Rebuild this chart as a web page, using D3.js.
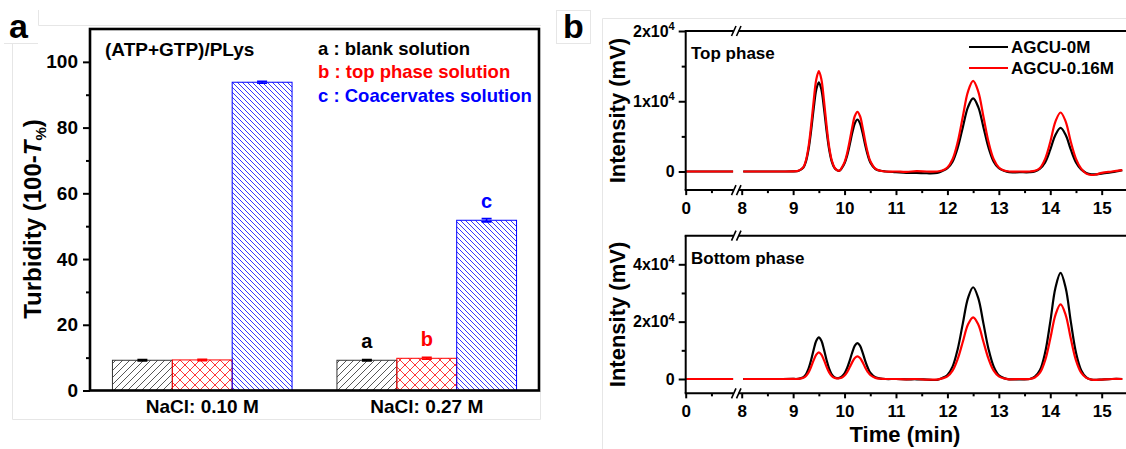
<!DOCTYPE html>
<html>
<head>
<meta charset="UTF-8">
<title>Turbidity and chromatograms</title>
<style>
body{margin:0;background:#fff;}
svg{display:block;font-family:"Liberation Sans",Arial,sans-serif;font-weight:bold;}
.axis path.domain{display:none;}
.axis line{stroke:#000;}
</style>
</head>
<body>
<svg width="1126" height="449"></svg>
<script src="https://cdn.jsdelivr.net/npm/d3@7/dist/d3.min.js"></script>
<script>
// ---- panel a data ----
var groups = ["NaCl: 0.10 M", "NaCl: 0.27 M"];
var seriesKeys = ["a", "b", "c"];
var blankVals = [9.2, 9.2], blankErr = [0.2, 0.2];
var topVals = [9.3, 9.8], topErr = [0.2, 0.3];
var coacVals = [93.8, 51.8], coacErr = [0.3, 0.5];
var turbTicks = [0, 20, 40, 60, 80, 100];
var turbMinor = [10, 30, 50, 70, 90];
var legendA = ["a : blank solution", "b : top phase solution", "c : Coacervates solution"];

// ---- panel b data (intensity in 10^4 mV) ----
var timeLeft = [0, 0.46, 0.92];
var baseLeft = [0, 0, 0];
var timeRight = [8.03, 8.4, 8.8, 9.0, 9.1,
	9.2, 9.25, 9.3, 9.35, 9.4, 9.45, 9.5, 9.55, 9.6, 9.65, 9.7, 9.75, 9.8, 9.85,
	9.9, 9.95, 10.0, 10.05, 10.1, 10.15, 10.2, 10.25, 10.3, 10.35, 10.4, 10.45, 10.5, 10.6, 10.7, 10.8,
	11.0, 11.2, 11.4, 11.6, 11.8,
	11.9, 12.0, 12.1, 12.2, 12.3, 12.4, 12.5, 12.6, 12.7, 12.8, 12.9, 13.0, 13.1, 13.2, 13.4, 13.6,
	13.7, 13.8, 13.9, 14.0, 14.1, 14.2, 14.3, 14.4, 14.5, 14.6, 14.7, 14.8, 14.9, 15.0, 15.2, 15.4];
var topBlack = [0, 0, 0, 0.002, 0.008,
	0.056, 0.145, 0.316, 0.582, 0.898, 1.165, 1.27, 1.165, 0.898, 0.582, 0.316, 0.145, 0.056, 0.02,
	0.01, 0.052, 0.116, 0.226, 0.38, 0.55, 0.687, 0.74, 0.687, 0.55, 0.38, 0.235, 0.13, 0.035, 0.01, 0,
	-0.01, -0.02, -0.02, -0.025, -0.02,
	0.008, 0.046, 0.14, 0.338, 0.631, 0.917, 1.04, 0.917, 0.631, 0.338, 0.14, 0.046, 0.01, -0.01, -0.01, -0.01,
	0, 0.04, 0.13, 0.31, 0.52, 0.62, 0.52, 0.31, 0.13, 0.03, -0.02, -0.04, -0.04, -0.03, -0.01, 0.02];
var topRed = [0, 0, 0, 0.003, 0.01,
	0.063, 0.163, 0.355, 0.655, 1.01, 1.31, 1.43, 1.31, 1.01, 0.655, 0.355, 0.163, 0.063, 0.022,
	0.012, 0.06, 0.133, 0.26, 0.437, 0.632, 0.79, 0.85, 0.79, 0.632, 0.437, 0.27, 0.15, 0.04, 0.01, 0,
	0, -0.005, 0.005, 0, 0,
	0.014, 0.057, 0.174, 0.419, 0.783, 1.138, 1.29, 1.138, 0.783, 0.419, 0.174, 0.057, 0.014, 0, 0, 0,
	0.01, 0.05, 0.18, 0.42, 0.71, 0.84, 0.71, 0.42, 0.18, 0.04, -0.03, -0.05, -0.04, -0.02, 0, 0.02];
var botBlack = [0, 0, 0, 0.002, 0.006,
	0.064, 0.165, 0.361, 0.664, 1.025, 1.33, 1.45, 1.33, 1.025, 0.664, 0.361, 0.165, 0.064, 0.03,
	0.04, 0.09, 0.196, 0.383, 0.643, 0.93, 1.161, 1.25, 1.161, 0.93, 0.643, 0.40, 0.22, 0.06, 0.015, 0,
	0, -0.01, -0.01, -0.02, -0.03,
	0.035, 0.14, 0.43, 1.04, 1.94, 2.82, 3.2, 2.82, 1.94, 1.04, 0.43, 0.13, 0.03, -0.01, -0.01, 0,
	0.08, 0.31, 0.92, 1.99, 3.17, 3.7, 3.17, 1.99, 0.92, 0.31, 0.06, -0.02, -0.03, -0.02, 0, 0];
var botRed = [0, 0, 0, 0.001, 0.004,
	0.041, 0.106, 0.232, 0.426, 0.658, 0.853, 0.93, 0.853, 0.658, 0.426, 0.232, 0.106, 0.041, 0.02,
	0.025, 0.055, 0.124, 0.242, 0.406, 0.588, 0.734, 0.79, 0.734, 0.588, 0.406, 0.25, 0.14, 0.04, 0.01, 0,
	0, -0.01, 0, -0.02, -0.02,
	0.02, 0.09, 0.29, 0.70, 1.30, 1.90, 2.15, 1.90, 1.30, 0.70, 0.29, 0.09, 0.02, -0.01, 0, 0,
	0.055, 0.22, 0.65, 1.40, 2.23, 2.6, 2.23, 1.40, 0.65, 0.22, 0.04, -0.02, -0.03, -0.02, 0, 0];
var timeMajorR = [8, 9, 10, 11, 12, 13, 14, 15];
var timeMinorR = [8.5, 9.5, 10.5, 11.5, 12.5, 13.5, 14.5];
var topTicks = [0, 1, 2], topMinor = [0.5, 1.5];
var botTicks = [0, 2, 4], botMinor = [1, 3];
var legendB = ["AGCU-0M", "AGCU-0.16M"];

var svg = d3.select("svg");
var defs = svg.append("defs");

// faint frame lines left over from the original figure assembly
var gray = svg.append("g").attr("stroke", "#e6e6e6").attr("fill", "none").attr("stroke-width", 1);
gray.append("path").attr("d", "M38.5,10V25.5H541 M4,43.5H38 M12.5,43V419.5H540.5V391");
gray.append("path").attr("d", "M602.5,449V18.5H1126");
gray.append("rect").attr("x", 556.5).attr("y", 10.5).attr("width", 34).attr("height", 33);

// hatch patterns
function hatch(id, size, d, color) {
	defs.append("pattern").attr("id", id).attr("patternUnits", "userSpaceOnUse")
		.attr("width", size).attr("height", size)
		.append("path").attr("d", d).attr("stroke", color).attr("stroke-width", 0.9).attr("fill", "none");
}
hatch("hA", 7, "M-1,1 l2,-2 M0,7 l7,-7 M6,8 l2,-2", "#444");
hatch("hB", 10, "M0,0 l10,10 M0,10 l10,-10", "#ff2020");
hatch("hC", 5, "M0,0 l5,5 M-1,4 l2,2 M4,-1 l2,2", "#2020ff");

// ================= panel a =================
var colors = ["#333", "#ff0000", "#0000ff"];
var fills = ["url(#hA)", "url(#hB)", "url(#hC)"];
var vals = [blankVals, topVals, coacVals];
var errs = [blankErr, topErr, coacErr];

var x0 = d3.scaleBand().domain(groups).range([90, 539]).paddingInner(0.2).paddingOuter(0.1);
var x1 = d3.scaleBand().domain(seriesKeys).range([0, x0.bandwidth()]).padding(0);
var y = d3.scaleLinear().domain([0, 110]).range([390.5, 29]);

var bars = [];
groups.forEach(function(g, gi) {
	seriesKeys.forEach(function(k, si) {
		bars.push({g: g, k: k, si: si, v: vals[si][gi], e: errs[si][gi], gi: gi});
	});
});

var ga = svg.append("g");
ga.selectAll(".bar").data(bars).enter().append("rect")
	.attr("class", "bar")
	.attr("x", function(d) { return x0(d.g) + x1(d.k); })
	.attr("y", function(d) { return y(d.v); })
	.attr("width", x1.bandwidth())
	.attr("height", function(d) { return y(0) - y(d.v); })
	.attr("fill", function(d) { return fills[d.si]; })
	.attr("stroke", function(d) { return colors[d.si]; })
	.attr("stroke-width", 1);

var eb = ga.selectAll(".err").data(bars).enter().append("g").attr("class", "err")
	.attr("stroke", function(d) { return d.si == 0 ? "#000" : colors[d.si]; })
	.attr("stroke-width", 1.6);
eb.append("path").attr("d", function(d) {
	var cx = x0(d.g) + x1(d.k) + x1.bandwidth() / 2;
	var t = y(d.v + d.e), b = y(d.v - d.e);
	return "M" + (cx - 5) + "," + t + "H" + (cx + 5) + "M" + (cx - 5) + "," + b + "H" + (cx + 5) + "M" + cx + "," + t + "V" + b;
});

// letters above second group
ga.selectAll(".lab").data(bars.filter(function(d) { return d.gi == 1; })).enter().append("text")
	.attr("x", function(d) { return x0(d.g) + x1(d.k) + x1.bandwidth() / 2; })
	.attr("y", function(d) { return y(d.v) - 12; })
	.attr("text-anchor", "middle").attr("font-size", 20)
	.attr("fill", function(d) { return d.si == 0 ? "#000" : colors[d.si]; })
	.text(function(d) { return d.k; });

// frame
ga.append("rect").attr("x", 90).attr("y", 29).attr("width", 449).attr("height", 361.5)
	.attr("fill", "none").attr("stroke", "#000").attr("stroke-width", 2.6);

var yAx = ga.append("g").attr("class", "axis").attr("transform", "translate(90,0)")
	.call(d3.axisLeft(y).tickValues(turbTicks).tickSize(7).tickPadding(5));
yAx.selectAll("line").attr("stroke-width", 2);
yAx.selectAll("text").attr("font-size", 19).attr("font-family", null);
ga.append("g").attr("class", "axis").attr("transform", "translate(90,0)")
	.call(d3.axisLeft(y).tickValues(turbMinor).tickSize(4).tickFormat(""))
	.selectAll("line").attr("stroke-width", 2);

ga.selectAll(".grp").data(groups).enter().append("text")
	.attr("x", function(d) { return x0(d) + x0.bandwidth() / 2; })
	.attr("y", 413).attr("text-anchor", "middle").attr("font-size", 19)
	.text(function(d) { return d; });

var yl = ga.append("text").attr("transform", "translate(41,219) rotate(-90)")
	.attr("text-anchor", "middle").attr("font-size", 24);
yl.append("tspan").text("Turbidity (100-");
yl.append("tspan").attr("font-style", "italic").text("T");
yl.append("tspan").attr("font-size", 15).attr("dy", 5).text("%");
yl.append("tspan").attr("dy", -5).text(")");

ga.append("text").attr("x", 105).attr("y", 56).attr("font-size", 19).text("(ATP+GTP)/PLys");
ga.selectAll(".leg").data(legendA).enter().append("text")
	.attr("x", 318).attr("y", function(d, i) { return 55 + i * 23.4; })
	.attr("font-size", 18.5)
	.attr("fill", function(d, i) { return i == 0 ? "#000" : colors[i]; })
	.text(function(d) { return d; });

svg.append("text").attr("x", 9).attr("y", 38).attr("font-size", 34).text("a");
svg.append("text").attr("x", 563).attr("y", 38).attr("font-size", 34).text("b");

// ================= panel b =================
var xL = d3.scaleLinear().domain([0, 1]).range([685.7, 737.2]);
var xR = d3.scaleLinear().domain([8, 15]).range([741.7, 1101.7]);
var yTop = d3.scaleLinear().domain([0, 2]).range([171.5, 31]);
var yBot = d3.scaleLinear().domain([0, 4]).range([379, 264.3]);

function supLabels(sel) {
	sel.selectAll(".tick text").each(function(d) {
		var t = d3.select(this);
		t.text(null).attr("font-size", 16).attr("font-family", null);
		if (d == 0) { t.text("0"); return; }
		t.append("tspan").text(d + "x10");
		t.append("tspan").attr("font-size", 11).attr("dy", "-0.6em").text("4");
	});
}

function chrom(yS, yMin, yMax, ticks, minor, blackVals, redVals, label, showLegend) {
	var g = svg.append("g");
	var top = yS(yMax), bot = yS(yMin);
	var left = xL(0);
	var brk = 736.5;

	// curves
	var line = d3.line().x(function(d) { return d[0] < 4 ? xL(d[0]) : xR(d[0]); })
		.y(function(d) { return yS(d[1]); }).curve(d3.curveCatmullRom);
	[[blackVals, "#000"], [redVals, "#ff0000"]].forEach(function(s) {
		g.append("path").datum(d3.zip(timeLeft, baseLeft)).attr("d", line)
			.attr("fill", "none").attr("stroke", s[1]).attr("stroke-width", 2.2);
		g.append("path").datum(d3.zip(timeRight, s[0])).attr("d", line)
			.attr("fill", "none").attr("stroke", s[1]).attr("stroke-width", 2.2);
	});

	// frame with breaks
	var fr = g.append("g").attr("stroke", "#000").attr("stroke-width", 2).attr("fill", "none");
	fr.append("path").attr("d", "M" + left + "," + top + "V" + bot);
	[top, bot].forEach(function(yy) {
		fr.append("path").attr("d", "M" + (left - 1) + "," + yy + "H" + (brk - 3) + "M" + (brk + 2) + "," + yy + "H1130");
		fr.append("path").attr("stroke-width", 1.6)
			.attr("d", "M" + (brk - 5) + "," + (yy + 5) + "l4.5,-10 M" + (brk) + "," + (yy + 5) + "l4.5,-10");
	});

	// x ticks
	var fmt = d3.format("d");
	var xa = g.append("g").attr("class", "axis").attr("transform", "translate(0," + bot + ")");
	xa.append("g").call(d3.axisBottom(xL).tickValues([0]).tickFormat(fmt).tickSize(5).tickPadding(7));
	xa.append("g").call(d3.axisBottom(xL).tickValues([0.5]).tickSize(3).tickFormat(""));
	xa.append("g").call(d3.axisBottom(xR).tickValues(timeMajorR).tickFormat(fmt).tickSize(5).tickPadding(7));
	xa.append("g").call(d3.axisBottom(xR).tickValues(timeMinorR).tickSize(3).tickFormat(""));
	xa.selectAll("line").attr("stroke-width", 2);
	xa.selectAll("text").attr("font-size", 17).attr("font-family", null);

	// y ticks
	var ya = g.append("g").attr("class", "axis").attr("transform", "translate(" + left + ",0)");
	ya.append("g").call(d3.axisLeft(yS).tickValues(ticks).tickSize(7).tickPadding(4)).call(supLabels);
	ya.append("g").call(d3.axisLeft(yS).tickValues(minor).tickSize(4).tickFormat(""));
	ya.selectAll("line").attr("stroke-width", 2);

	g.append("text").attr("transform", "translate(625," + ((top + bot) / 2) + ") rotate(-90)")
		.attr("text-anchor", "middle").attr("font-size", 22).text("Intensity (mV)");
	g.append("text").attr("x", 691).attr("y", top + 28).attr("font-size", 17).text(label);

	if (showLegend) {
		var lg = g.selectAll(".lgb").data(legendB).enter().append("g")
			.attr("transform", function(d, i) { return "translate(969," + (47 + i * 21) + ")"; });
		lg.append("line").attr("x1", 0).attr("x2", 39)
			.attr("stroke", function(d, i) { return i == 0 ? "#000" : "#ff0000"; }).attr("stroke-width", 2.2);
		lg.append("text").attr("x", 42).attr("y", 6).attr("font-size", 17).text(function(d) { return d; });
	}
}

chrom(yTop, -0.265, 2, topTicks, topMinor, topBlack, topRed, "Top phase", true);
chrom(yBot, -0.5, 5, botTicks, botMinor, botBlack, botRed, "Bottom phase", false);

svg.append("text").attr("x", 905).attr("y", 442).attr("text-anchor", "middle")
	.attr("font-size", 22).text("Time (min)");
</script>
</body>
</html>
